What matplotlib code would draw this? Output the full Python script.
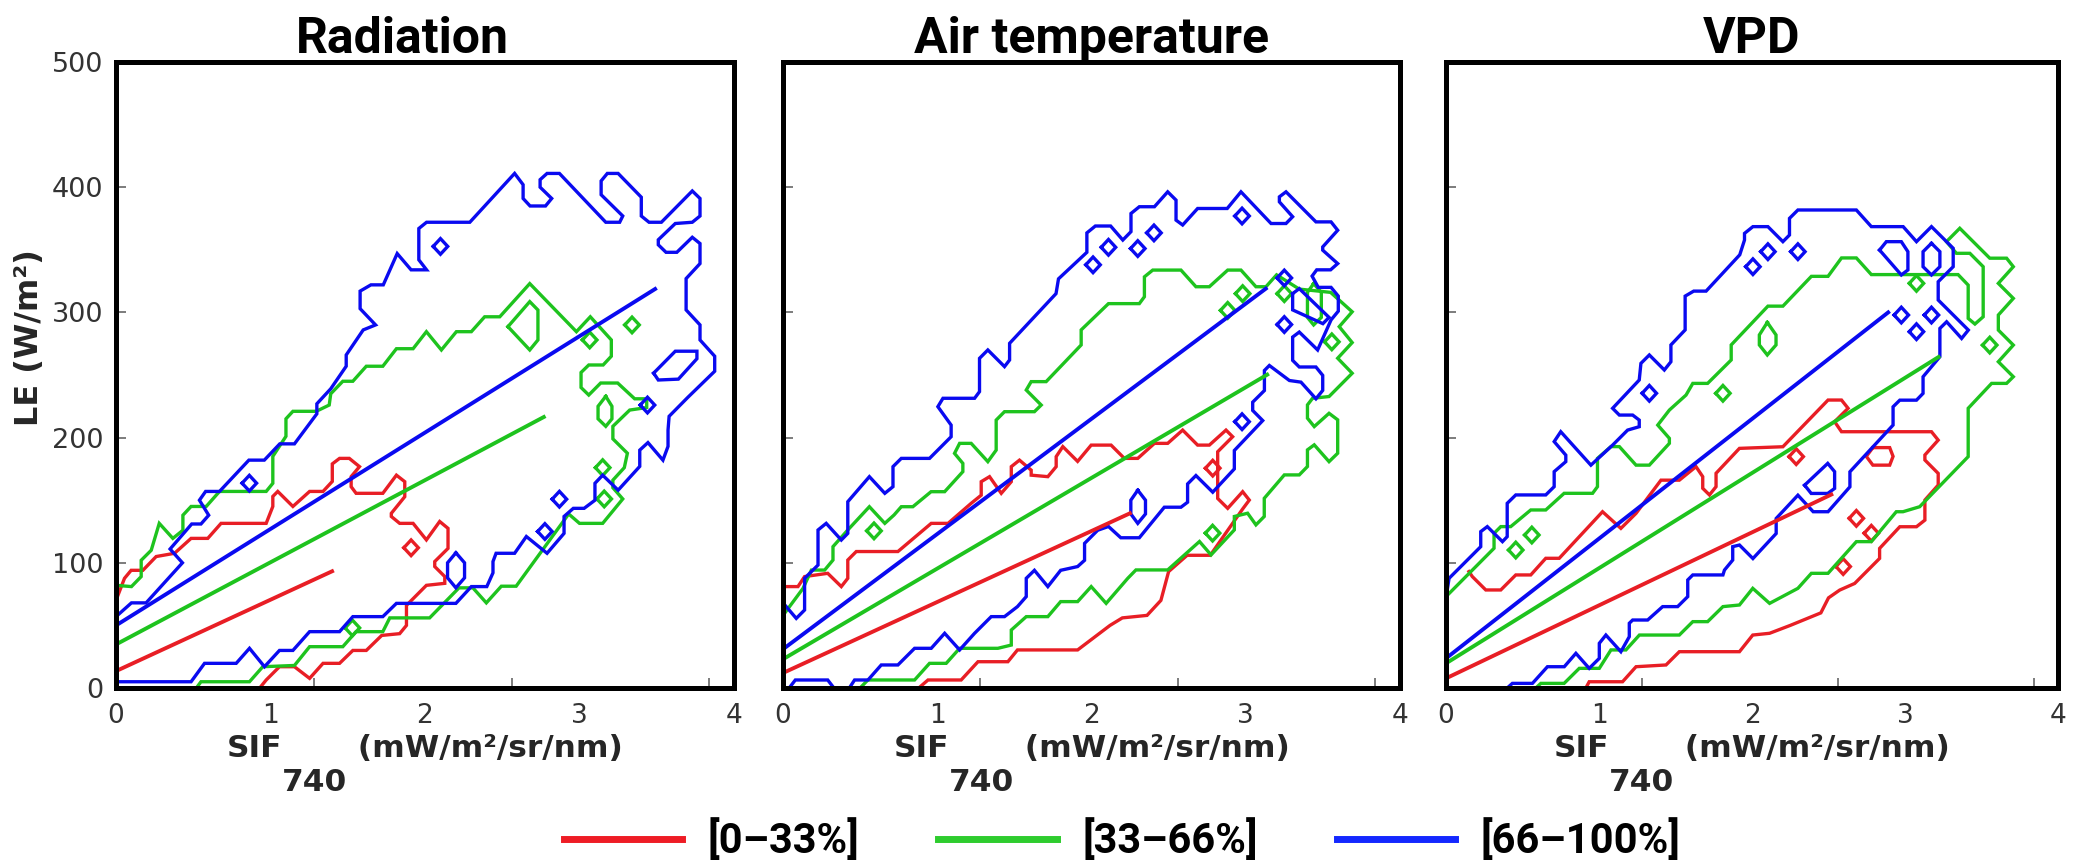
import matplotlib
matplotlib.use('Agg')
import matplotlib.pyplot as plt
from matplotlib.lines import Line2D
from matplotlib import font_manager as fm

# ------------------------------------------------------------------ data
panel_titles = ['Radiation', 'Air temperature', 'VPD']
class_labels = ['[0–33%]', '[33–66%]', '[66–100%]']
x_ticks = [0, 1, 2, 3, 4]
y_ticks = [0, 100, 200, 300, 400, 500]
x_minor_ticks = [1.28, 2.56, 3.84]
xlabel_parts = ['SIF', '740', ' (mW/m²/sr/nm)']
ylabel_text = 'LE (W/m²)'

# ---- Radiation: density-contour outlines (SIF, LE)
rad_red = [(0,70),(0.055,87.6),(0.098,94),(0.174,94),(0.26,105),(0.379,107.6),(0.486,119.5),(0.594,119.5),
           (0.68,131.5),(0.972,131.5),(1.015,145),(1.015,153),(1.047,157),(1.145,145),(1.253,157),(1.34,157),
           (1.40,165),(1.40,179),(1.447,183.4),(1.51,183.4),(1.576,176.8),(1.522,168.8),(1.522,160.8),
           (1.554,155.5),(1.727,155.5),(1.815,170),(1.869,164.8),(1.869,152.8),(1.782,139.5),(1.782,137),
           (1.836,131.5),(1.923,131.5),(2.009,118.3),(2.095,133),(2.149,127.5),(2.149,111.5),(2.063,101),
           (2.063,97),(2.128,89),(2.128,83.6),(2.009,82),(1.88,66),(1.88,50),(1.836,43.4),(1.72,42),(1.62,30),
           (1.533,30),(1.447,19.7),(1.34,19.7),(1.253,7.7),(1.155,17),(1.058,17),(0.972,6.4),(0.93,0)]
rad_red_pts = [(1.91,112)]
rad_red_loops = []

rad_green = [(0,82),(0.10,81),(0.163,89),(0.163,102),(0.228,110),(0.28,131.5),(0.368,119.5),(0.433,126),
             (0.433,138),(0.486,145),(0.584,145),(0.67,157),(0.972,157),(1.015,163.5),(1.015,185),(1.10,201),
             (1.10,215),(1.145,221),(1.296,221),(1.38,226),(1.39,235),(1.468,245),(1.533,245),(1.62,257),
             (1.727,257),(1.815,271),(1.923,271),(2.009,284.6),(2.106,270),(2.203,284.6),(2.30,284.6),
             (2.386,296.5),(2.484,296.5),(2.678,323),(2.98,284.6),(3.07,296.5),(3.206,278),(3.206,265),
             (3.153,258),(3.06,258),(3.01,252),(3.01,240),(3.06,234),(3.137,243.6),(3.247,243.6),(3.357,231),
             (3.435,231),(3.435,224),(3.325,222),(3.216,209),(3.216,199),(3.31,187.5),(3.29,176),(3.216,166),
             (3.216,160),(3.28,151),(3.15,131.5),(3.0,131.5),(2.93,139),(2.59,81.3),(2.494,81.3),(2.397,68),
             (2.31,80),(2.22,80),(2.03,56),(1.772,56),(1.727,45),(1.554,45),(1.468,33),(1.253,33),(1.155,18),
             (0.95,17),(0.864,5),(0.55,5),(0.52,0)]
rad_green_pts = [(3.066,278),(3.34,290),(3.15,176),(3.16,151),(1.53,48)]
rad_green_loops = [[(2.537,288.6),(2.678,308.6),(2.731,301.9),(2.731,278),(2.678,270)],
                   [(3.17,233),(3.21,225),(3.21,215),(3.17,209),(3.12,215),(3.12,225)]]

rad_blue = [(0,57),(0.10,68),(0.195,68),(0.43,100),(0.35,111),(0.49,131),(0.55,131),(0.60,138),(0.54,150),
            (0.58,157),(0.67,157),(0.86,182),(0.96,182),(1.06,195),(1.155,195),(1.30,219),(1.30,227),(1.39,239),
            (1.49,257),(1.49,266),(1.60,286),(1.68,290),(1.58,303),(1.58,317),(1.65,322),(1.73,322),(1.82,347),
            (1.91,334),(2.01,334),(1.96,342),(1.96,367),(2.01,372),(2.29,372),(2.58,411),(2.635,402),
            (2.635,391),(2.68,385),(2.78,385),(2.82,391),(2.745,400),(2.745,406),(2.79,411),(2.87,411),
            (3.17,372),(3.26,372),(3.28,377),(3.14,394),(3.14,405),(3.18,411),(3.25,411),(3.40,392),(3.40,377),
            (3.45,372),(3.53,372),(3.73,397),(3.78,391),(3.78,377),(3.73,372),(3.62,371),(3.51,358),(3.51,354),
            (3.56,348),(3.63,348),(3.73,360),(3.78,355),(3.78,339),(3.69,327),(3.69,302),(3.78,290),(3.78,278),
            (3.875,265),(3.875,253),(3.70,232),(3.58,217),(3.573,206),(3.573,193),(3.54,182),(3.443,196),
            (3.39,190),(3.39,177),(3.25,158),(3.15,170),(3.10,163.5),(3.10,150),(3.03,143.5),(2.96,143.5),
            (2.90,137),(2.90,123.5),(2.79,107.6),(2.656,121),(2.58,107.6),(2.46,107.6),(2.44,101),(2.44,92),
            (2.40,81),(2.30,81),(2.20,67.6),(1.815,67.6),(1.727,57),(1.533,57),(1.447,45),(1.253,45),(1.145,30),
            (1.058,30),(0.961,17),(0.864,31.7),(0.778,19.7),(0.573,19.7),(0.486,5),(0,5)]
rad_blue_pts = [(0.863,163.6),(2.10,352.7),(2.87,150.8),(2.776,125),(3.44,226)]
rad_blue_loops = [[(3.48,251.5),(3.62,269),(3.76,269),(3.76,263),(3.64,246.7),(3.51,246)],
                  [(2.20,108),(2.256,100),(2.256,88),(2.20,80),(2.146,88),(2.146,100)]]

# ---- Air temperature
air_red = [(0,81),(0.097,81),(0.14,89),(0.29,91.6),(0.378,81),(0.42,87.6),(0.42,102.2),(0.475,109),(0.745,109),
           (0.961,131.5),(1.07,131.5),(1.22,147.5),(1.285,154),(1.285,164.8),(1.339,168.8),(1.415,155.5),
           (1.48,164.8),(1.48,176.8),(1.533,182),(1.609,174),(1.609,170),(1.717,168.8),(1.771,176.8),
           (1.771,184.8),(1.814,192.8),(1.91,181),(1.998,194),(2.127,194),(2.213,183.4),(2.30,183.4),
           (2.408,195.4),(2.494,195.4),(2.591,206),(2.688,194),(2.764,194),(2.872,206),(2.915,200.7),
           (2.818,188.7),(2.818,151.4),(2.883,143.5),(2.98,156.8),(3.023,150.1),(2.98,143),(2.77,106),
           (2.62,106),(2.50,93),(2.45,70),(2.36,58),(2.2,56),(2.12,50),(1.91,30.4),(1.52,30.4),(1.458,21),
           (1.264,21),(1.155,6.4),(0.94,6.4),(0.88,0)]
air_red_pts = [(2.786,175.6)]
air_red_loops = []

air_green = [(0,58),(0.13,79.6),(0.184,94.2),(0.27,94.2),(0.324,102.2),(0.324,112.9),(0.42,126.2),(0.56,144.8),
             (0.66,131.5),(0.72,138.2),(0.767,144.8),(0.842,144.8),(0.96,156.8),(1.048,156.8),(1.166,172.8),
             (1.166,179.4),(1.112,187.4),(1.145,195.4),(1.22,195.4),(1.328,180.8),(1.382,190),(1.382,214),
             (1.436,220.7),(1.63,220.7),(1.674,226),(1.577,238),(1.609,244.7),(1.706,244.7),(1.933,274),
             (1.933,286),(2.11,307),(2.31,307),(2.343,312.5),(2.343,328.4),(2.397,333.8),(2.58,333.8),
             (2.677,320.5),(2.764,320.5),(2.883,333.8),(2.969,333.8),(3.066,320.5),(3.131,320.5),(3.2,330),
             (3.347,318.6),(3.55,316),(3.69,300.5),(3.606,288.6),(3.69,275.9),(3.596,263.4),(3.69,251.4),
             (3.54,232.8),(3.433,231.4),(3.40,226.1),(3.40,215.5),(3.444,208.8),(3.54,219.4),(3.596,214.2),
             (3.596,187.5),(3.54,180.8),(3.444,194.2),(3.40,190.2),(3.40,176.9),(3.347,170.2),(3.25,170.2),
             (3.12,151.5),(3.12,137),(3.066,130.3),(3.012,139.6),(2.926,137),(2.926,126.3),(2.775,106.3),
             (2.70,117),(2.494,94.3),(2.288,94.3),(2.235,87.6),(2.095,67.6),(1.998,81),(1.91,69),(1.80,69),
             (1.717,57),(1.577,57),(1.48,46.3),(1.48,34.3),(1.393,31.7),(1.145,31.7),(1.058,19.7),(0.95,19.7),
             (0.853,6.4),(0.55,6.4),(0.5,0)]
air_green_pts = [(0.59,125.5),(2.883,301.6),(2.98,315),(3.25,315),(3.558,276.5),(2.785,123.7)]
air_green_loops = [[(3.44,323),(3.49,316),(3.49,296),(3.44,290),(3.40,296),(3.40,316)]]

air_blue = [(0,68),(0.086,55.6),(0.14,62.3),(0.14,87.6),(0.227,98.2),(0.227,126.2),(0.28,131.5),(0.378,118.2),
            (0.42,123.5),(0.42,148.8),(0.56,168.8),(0.66,155.5),(0.713,160.8),(0.713,176.8),(0.767,183.4),
            (0.95,183.4),(1.09,200.7),(1.09,210),(1.004,224.7),(1.037,231.4),(1.242,231.4),(1.274,236.7),
            (1.274,263.3),(1.328,270),(1.436,256.7),(1.469,262),(1.469,275.3),(1.77,315),(1.786,326.8),
            (1.97,348),(1.97,363.5),(2.025,369),(2.124,369),(2.203,357.8),(2.256,364.5),(2.256,379),
            (2.31,384.4),(2.408,384.4),(2.494,396.3),(2.548,389.7),(2.548,373.7),(2.591,369.8),(2.688,383),
            (2.88,383),(2.969,396.3),(3.164,371),(3.261,371),(3.304,376.4),(3.218,388.3),(3.218,392.3),
            (3.261,396.3),(3.455,372.3),(3.553,372.3),(3.596,365.6),(3.499,352.3),(3.499,349.7),(3.596,339),
            (3.55,334),(3.46,334),(3.43,329),(3.47,320),(3.553,320),(3.60,313),(3.60,301),(3.553,294),
            (3.466,270),(3.347,284.3),(3.304,280.3),(3.304,261.7),(3.347,256.4),(3.455,256.4),(3.499,249.7),
            (3.499,237.7),(3.455,231),(3.358,244.3),(3.283,245.6),(3.153,257.6),(3.121,253.6),(3.121,237.6),
            (3.045,228.3),(3.045,221.7),(3.11,213.6),(2.926,189.7),(2.926,175),(2.786,156.4),(2.677,169.7),
            (2.623,163),(2.623,148.4),(2.58,144.4),(2.472,144.4),(2.31,120),(2.19,120),(2.11,129),(2.04,126),
            (1.955,115.5),(1.955,102),(1.91,97),(1.80,94),(1.717,81),(1.63,94),(1.577,87.6),(1.577,73),
            (1.52,65),(1.436,57),(1.35,57),(1.242,43.7),(1.145,30.4),(1.048,43.7),(0.961,31.7),(0.853,31.7),
            (0.745,18.4),(0.637,18.4),(0.551,6.4),(0.464,6.4),(0.43,0)]
air_blue_pts = [(2.01,338),(2.11,352),(2.30,351),(2.405,363.5),(2.976,377),(3.25,327.5),(3.25,290.3),(2.976,212.7)]
air_blue_loops = [[(2.30,158),(2.35,150),(2.35,139),(2.30,131.5),(2.255,139),(2.255,150)],
                  [(3.304,315),(3.347,319),(3.54,296),(3.50,291),(3.304,302)],
                  [(0.04,0),(0.08,6.4),(0.29,6.4),(0.33,0)]]

# ---- VPD
vpd_red = [(0.15,93),(0.172,89),(0.26,78.3),(0.358,78.3),(0.456,90.3),(0.554,90.3),(0.652,103.6),(0.74,103.6),
           (1.023,140.8),(1.143,127.5),(1.242,139.5),(1.405,166),(1.525,166),(1.634,176.8),(1.678,168.8),
           (1.678,159.5),(1.722,154.2),(1.765,160.8),(1.765,171.5),(1.918,191.4),(2.202,192.7),(2.497,230),
           (2.585,230),(2.628,223.4),(2.54,212.7),(2.585,204.7),(3.173,204.7),(3.217,198),(3.13,186.1),
           (3.13,182.1),(3.217,171.4),(3.217,162.1),(3.13,150.1),(3.13,134.1),(3.075,128.8),(2.966,128.8),
           (2.834,111.5),(2.834,103.5),(2.671,83.5),(2.573,78.2),(2.50,72),(2.45,60),(2.35,55),(2.25,50),
           (2.115,43.7),(2.005,42.3),(1.918,29),(1.525,29),(1.438,18.4),(1.242,17),(1.154,5),(0.936,5),(0.914,0)]
vpd_red_pts = [(2.289,184.8),(2.682,135.5),(2.78,123.6),(2.596,97)]
vpd_red_loops = [[(2.79,192),(2.90,192),(2.922,185),(2.90,178),(2.79,178),(2.747,185)]]

vpd_green = [(0,73),(0.314,111.6),(0.314,123.5),(0.358,128.9),(0.423,128.9),(0.554,142.2),(0.652,142.2),
             (0.772,155.5),(0.958,155.5),(0.99,160.8),(0.99,183.4),(1.078,192.8),(1.133,192.8),(1.242,178),
             (1.329,178),(1.46,195.4),(1.46,199.4),(1.384,210),(1.46,222),(1.569,234),(1.613,243.3),(1.71,243.3),
             (1.864,262),(1.864,274),(1.918,281),(2.104,305),(2.202,305),(2.388,328.8),(2.497,328.8),
             (2.585,343.5),(2.682,343.5),(2.78,330.2),(3.347,330.2),(3.413,321.8),(3.413,295.2),(3.457,290.7),
             (3.511,296.5),(3.511,336.5),(3.424,347.2),(3.336,347.2),(3.271,356.5),(3.358,367.2),(3.554,343.3),
             (3.664,343.3),(3.708,336.5),(3.61,323.2),(3.708,311.2),(3.61,297.9),(3.61,285.9),(3.708,273.9),
             (3.61,260.6),(3.708,248.6),(3.664,243.3),(3.566,243.3),(3.413,223.4),(3.413,184.8),(3.096,144.8),
             (2.987,140.8),(2.943,140.8),(2.78,116.9),(2.682,116.9),(2.497,91.6),(2.388,91.6),(2.30,79.6),
             (2.115,67.6),(2.005,79.6),(1.918,66.3),(1.81,65),(1.71,53),(1.613,53),(1.525,42.3),(1.264,42.3),
             (1.176,30.4),(1.078,30.4),(1.002,15.7),(0.871,15.7),(0.772,3.7),(0.62,3.7),(0.587,0)]
vpd_green_pts = [(0.456,110.2),(0.561,122.2),(1.81,235.4),(3.075,323.2),(3.554,273.9)]
vpd_green_loops = [[(2.10,292),(2.157,282),(2.157,274),(2.10,266),(2.048,274),(2.048,282)]]

vpd_blue = [(0,72),(0.02,87.6),(0.227,112.9),(0.227,124.9),(0.27,128.9),(0.369,116.9),(0.40,120.9),(0.40,147.5),
            (0.456,154.2),(0.652,154.2),(0.707,160.8),(0.707,172.8),(0.783,180.8),(0.783,186),(0.707,196.8),
            (0.75,204.7),(0.947,178),(1.089,194),(1.187,206),(1.263,208.7),(1.263,214),(1.22,218),(1.133,218),
            (1.089,223.4),(1.263,246),(1.274,259.3),(1.329,266),(1.427,254),(1.47,260.6),(1.47,274),(1.563,286),
            (1.563,313),(1.619,317),(1.70,317),(1.92,346),(1.951,357.8),(1.951,363.1),(2.006,368.5),
            (2.104,368.5),(2.202,356.5),(2.245,361.8),(2.245,375.1),(2.30,381.8),(2.682,381.8),(2.78,368.5),
            (2.988,368.5),(3.075,356.5),(3.173,368.5),(3.315,351.2),(3.315,336.5),(3.217,324.5),(3.217,309.9),
            (3.414,285.9),(3.37,279.2),(3.272,292.5),(3.228,287.2),(3.228,264.6),(3.118,248.6),(3.118,235.3),
            (3.075,229.9),(2.966,229.9),(2.922,224.6),(2.922,210),(2.64,172.7),(2.64,160.7),(2.497,140.8),
            (2.40,140.8),(2.30,154),(2.158,135.4),(2.158,123.4),(2.006,103.4),(1.918,114.2),(1.874,112.9),
            (1.874,102.2),(1.82,94.2),(1.81,90.3),(1.613,90.3),(1.58,86.3),(1.58,73),(1.514,65),(1.416,65),
            (1.318,54.3),(1.22,54.3),(1.198,51.7),(1.198,41),(1.143,29),(1.045,42.3),(1.002,35.7),(1.002,23.7),
            (0.936,15.7),(0.849,27.7),(0.773,17),(0.663,17),(0.565,3.7),(0.434,3.7),(0.40,0)]
vpd_blue_pts = [(1.329,235.4),(2.006,336.5),(2.104,348.5),(2.30,348.5),(2.976,297.9),(3.173,297.9),(3.075,284.6)]
vpd_blue_loops = [[(2.834,349.8),(2.878,356.5),(2.976,356.5),(3.019,348.5),(3.019,333.9),(2.976,329.9)],
                  [(3.173,355.2),(3.228,348.5),(3.228,336.5),(3.173,329.9),(3.118,336.5),(3.118,348.5)],
                  [(2.344,162),(2.495,179.4),(2.54,172.8),(2.54,159.4),(2.495,155.4),(2.387,155.4)]]

# ---- linear fits per class: intercept, slope, SIF range end
rad_fit_b0 = [13.5, 34.8, 50.0]
rad_fit_b1 = [57.0, 65.6, 77.0]
rad_fit_xmax = [1.41, 2.78, 3.50]
air_fit_b0 = [12.0, 23.0, 31.0]
air_fit_b1 = [56.7, 72.4, 92.0]
air_fit_xmax = [2.26, 3.15, 3.14]
vpd_fit_b0 = [7.7, 19.7, 23.7]
vpd_fit_b1 = [58.3, 76.0, 95.6]
vpd_fit_xmax = [2.53, 3.23, 2.90]

# ------------------------------------------------------------------ style
colors = ['#E81E25', '#1EC31E', '#0A0AF0']
legend_colors = ['#EE1C25', '#2ECC2E', '#1428FF']
avail = {f.name for f in fm.fontManager.ttflist}
head_font = next((f for f in ['Roboto', 'Open Sans', 'Lato', 'DejaVu Sans'] if f in avail), 'DejaVu Sans')
txt_col = '#262626'
tick_col = '#333333'
HX, HY = 0.047, 6.25   # half-size of a single grid-cell contour

panels = [
    ([rad_red, rad_green, rad_blue], [rad_red_pts, rad_green_pts, rad_blue_pts],
     [rad_red_loops, rad_green_loops, rad_blue_loops], rad_fit_b0, rad_fit_b1, rad_fit_xmax),
    ([air_red, air_green, air_blue], [air_red_pts, air_green_pts, air_blue_pts],
     [air_red_loops, air_green_loops, air_blue_loops], air_fit_b0, air_fit_b1, air_fit_xmax),
    ([vpd_red, vpd_green, vpd_blue], [vpd_red_pts, vpd_green_pts, vpd_blue_pts],
     [vpd_red_loops, vpd_green_loops, vpd_blue_loops], vpd_fit_b0, vpd_fit_b1, vpd_fit_xmax),
]

W, H = 2073, 864
fig = plt.figure(figsize=(W / 100, H / 100), dpi=100)
rend = fig.canvas.get_renderer()
lefts = [116/W, 783/W, 1446/W]
widths = [618/W, 617/W, 612/W]
title_x = [402/W, (783 + 308.5)/W, (1446 + 306)/W]
bottom, height = 1 - 688/H, 626/H

LW = 2.4
for k, (paths, pts, loops, b0, b1, xmax) in enumerate(panels):
    ax = fig.add_axes([lefts[k], bottom, widths[k], height])
    for c in range(3):
        col = colors[c]
        ax.plot([p[0] for p in paths[c]], [p[1] for p in paths[c]], color=col, lw=LW,
                solid_joinstyle='miter', zorder=2 + c)
        for lp in loops[c]:
            ax.plot([p[0] for p in lp] + [lp[0][0]], [p[1] for p in lp] + [lp[0][1]],
                    color=col, lw=LW, solid_joinstyle='miter', zorder=2 + c)
        for (cx, cy) in pts[c]:
            ax.plot([cx - HX, cx, cx + HX, cx, cx - HX], [cy, cy + HY, cy, cy - HY, cy],
                    color=col, lw=LW, solid_joinstyle='miter', zorder=2 + c)
    for c in range(3):
        ax.plot([0, xmax[c]], [b0[c], b0[c] + b1[c] * xmax[c]], color=colors[c],
                lw=2.8, solid_capstyle='butt', zorder=6 + c)

    ax.set_xlim(0, 4)
    ax.set_ylim(0, 500)
    ax.set_xticks(x_ticks)
    ax.set_xticklabels([str(t) for t in x_ticks])
    ax.set_xticks(x_minor_ticks, minor=True)
    ax.set_yticks(y_ticks)
    ax.tick_params(axis='x', which='major', length=0, pad=11, labelsize=19, labelcolor=tick_col)
    ax.tick_params(axis='x', which='minor', direction='in', length=7, width=1.2, color='#666666')
    ax.tick_params(axis='y', which='major', direction='in', length=7, width=1.2, color='#666666',
                   pad=9, labelsize=19.5, labelcolor=tick_col)
    if k > 0:
        ax.tick_params(axis='y', labelleft=False)
    for s in ax.spines.values():
        s.set_linewidth(3.6)
        s.set_color('black')
        s.set_zorder(20)
    if k == 0:
        ax.set_ylabel(ylabel_text, fontsize=23, fontweight='bold', color=txt_col)
        ax.yaxis.set_label_coords(-0.14, 0.56)
        ax.yaxis.label.set_va('center')
    fig.text(title_x[k], 1 - 53/H, panel_titles[k], fontsize=36, fontweight='bold',
             family=head_font, ha='center', va='baseline', color='black')

    # x label: SIF with a full-size, lowered "740" subscript
    fp = dict(fontsize=22.5, fontweight='bold', color=txt_col)
    tmp = [fig.text(0, 0, s, **fp) for s in xlabel_parts]
    ws = [t.get_window_extent(renderer=rend).width for t in tmp]
    for t in tmp:
        t.remove()
    x0 = (lefts[k] + widths[k] / 2) * W - sum(ws) / 2
    base_main = 1 - 757/H
    base_sub = 1 - 791/H
    for s, w, yb in zip(xlabel_parts, ws, [base_main, base_sub, base_main]):
        fig.text(x0 / W, yb, s, ha='left', va='baseline', **fp)
        x0 += w

handles = [Line2D([], [], color=legend_colors[i], lw=5) for i in range(3)]
fig.legend(handles, class_labels, loc='center', bbox_to_anchor=(1122/W, 1 - 841/H), ncol=3,
           frameon=False, handlelength=2.85, handletextpad=0.6, columnspacing=1.9,
           prop={'family': head_font, 'weight': 'bold', 'size': 30})

fig.savefig('out.png', dpi=100)
